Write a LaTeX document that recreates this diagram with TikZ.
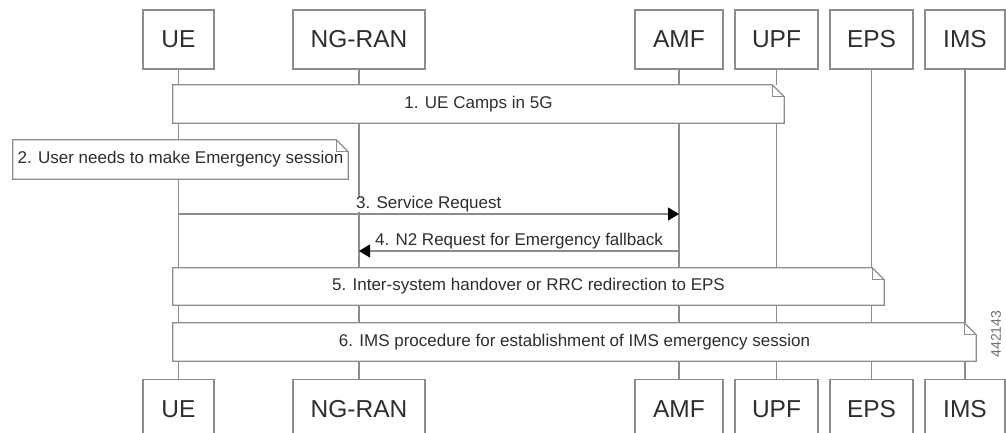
\documentclass[tikz,border=0pt]{standalone}
\usepackage{fontspec}
\setmainfont{Liberation Sans}
\usepackage{xcolor}
\usepackage{tikz}
\usetikzlibrary{positioning, arrows.meta}
\definecolor{lineColor}{HTML}{8C8C8C}
\definecolor{textColor}{HTML}{2E2E2E}

\newcommand{\notebox}[1]{%
  \draw[line] (#1.north west) -- ([xshift=-12pt]#1.north east) -- ([yshift=-12pt]#1.north east)
    -- (#1.south east) -- (#1.south west) -- cycle;
  \draw[line] ([xshift=-12pt]#1.north east) |- ([yshift=-12pt]#1.north east);
}

\begin{document}
\begin{tikzpicture}[
  x=1pt, y=-1pt,
  line/.style={draw=lineColor, line width=1.2pt},
  actor/.style={
    rectangle,
    line,
    fill=white,
    minimum height=59pt,
    inner sep=0pt,
    text=textColor,
    font=\fontsize{24.5}{28}\selectfont
  },
  note/.style={
    rectangle,
    fill=white,
    inner sep=0pt,
    text=textColor,
    font=\fontsize{17}{20}\selectfont
  },
  msg/.style={
    line,
    -{Triangle[length=11pt, width=13pt, color=black]}
  },
  msglabel/.style={
    midway,
    anchor=south,
    yshift=1pt,
    fill=white,
    inner xsep=1pt,
    inner ysep=0pt,
    text=textColor,
    font=\fontsize{17}{20}\selectfont
  }
]
  \useasboundingbox (0,0) rectangle (1006,433);

  % Define nodes
  \node[actor, minimum width=71pt] (UE) at (178.5,39.5) {UE};
  \node[actor, minimum width=132pt] (NGRAN) at (359,39.5) {NG-RAN};
  \node[actor, minimum width=88pt] (AMF) at (679,39.5) {AMF};
  \node[actor, minimum width=83pt] (UPF) at (776.5,39.5) {UPF};
  \node[actor, minimum width=83pt] (EPS) at (871.5,39.5) {EPS};
  \node[actor, minimum width=80pt] (IMS) at (965,39.5) {IMS};

  \node[actor, minimum width=71pt, below=309pt of UE] (UE2) {UE};
  \node[actor, minimum width=132pt, below=309pt of NGRAN] (NGRAN2) {NG-RAN};
  \node[actor, minimum width=88pt, below=309pt of AMF] (AMF2) {AMF};
  \node[actor, minimum width=83pt, below=309pt of UPF] (UPF2) {UPF};
  \node[actor, minimum width=83pt, below=309pt of EPS] (EPS2) {EPS};
  \node[actor, minimum width=80pt, below=309pt of IMS] (IMS2) {IMS};

  % Lifelines
  \foreach \a in {UE, NGRAN, AMF, UPF, EPS, IMS}
    \draw[line] (\a.south) -- (\a2.north);

  % Notes
  \node[note, minimum width=611pt, minimum height=38pt] (camp) at (478.5,104) {1. UE Camps in 5G};
  \notebox{camp}
  \node[note, minimum width=335pt, minimum height=39pt] (need) at (180.5,159.5) {2. User needs to make Emergency session};
  \notebox{need}

  % Connect nodes with arrows
  \coordinate (sr) at (0,214);
  \coordinate (n2) at (0,251);
  \draw[msg] (UE |- sr) -- (AMF |- sr) node[msglabel] {3. Service Request};
  \draw[msg] (AMF |- n2) -- (NGRAN |- n2) node[msglabel] {4. N2 Request for Emergency fallback};

  \node[note, minimum width=711pt, minimum height=37pt] (ho) at (528.5,286.5) {5. Inter-system handover or RRC redirection to EPS};
  \notebox{ho}
  \node[note, minimum width=803pt, minimum height=38pt] (ims) at (574.5,342) {6. IMS procedure for establishment of IMS emergency session};
  \notebox{ims}

  \node[rotate=90, text=lineColor!80!black, font=\fontsize{14}{14}\selectfont] (figid) at (996,334) {442143};
\end{tikzpicture}
\end{document}
